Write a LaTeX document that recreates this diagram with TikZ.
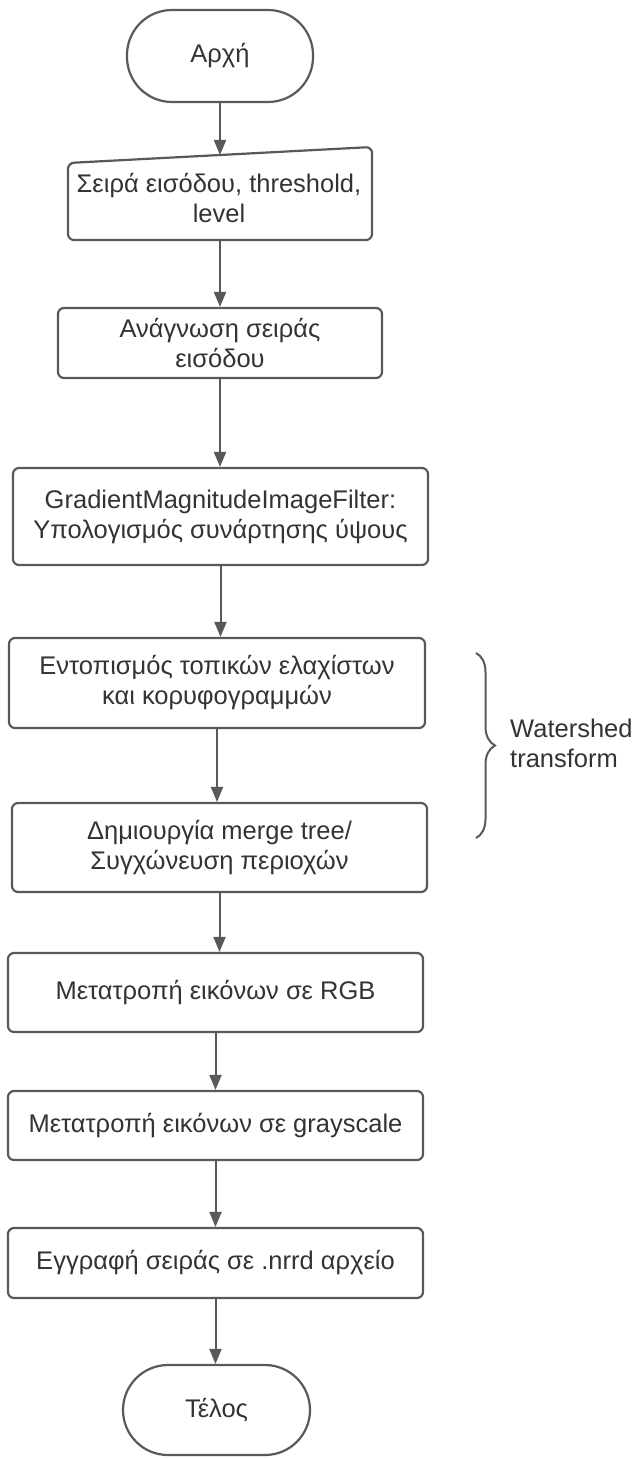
\documentclass[tikz,border=0pt]{standalone}
\usepackage{fontspec}
\setmainfont{Liberation Sans}
\usetikzlibrary{arrows.meta,decorations.pathreplacing}
\definecolor{ln}{HTML}{595959}
\definecolor{tx}{HTML}{333333}
\begin{document}
\begin{tikzpicture}[x=1pt,y=-1pt,
  txt/.style={text=tx, align=center, font=\fontsize{25.5}{30}\selectfont, inner sep=0pt},
  box/.style={txt, draw=ln, line width=2.2pt, rounded corners=6pt, fill=white},
  term/.style={box, rounded corners=45pt},
  arr/.style={draw=ln, line width=2pt, -{Triangle[length=15pt,width=12pt]}}]
\useasboundingbox (0,0) rectangle (641,1458);
\fill[white] (0,0) rectangle (641,1458);

% start
\node[term, minimum width=186pt, minimum height=92pt] (start) at (220,56) {Αρχή};

% manual input
\coordinate (inTL) at (68,163);
\coordinate (inTR) at (372,147);
\coordinate (inBR) at (372,240);
\coordinate (inBL) at (68,240);
\coordinate (inTop) at (220,155);
\coordinate (inBot) at (220,240);
\draw[draw=ln, line width=2.2pt, rounded corners=6pt, fill=white]
  (inTL) -- (inTR) -- (inBR) -- (inBL) -- cycle;
\node[txt] (inp) at (219,198) {Σειρά εισόδου, threshold,\\level};

\node[box, minimum width=324pt, minimum height=70pt] (read) at (220,343) {Ανάγνωση σειράς\\εισόδου};
\node[box, minimum width=415pt, minimum height=97pt] (grad) at (220.5,516.5) {GradientMagnitudeImageFilter:\\Υπολογισμός συνάρτησης ύψους};
\node[box, minimum width=416pt, minimum height=90pt] (ent) at (217,683) {Εντοπισμός τοπικών ελαχίστων\\και κορυφογραμμών};
\node[box, minimum width=415pt, minimum height=89pt] (dim) at (219.5,847.5) {Δημιουργία merge tree/\\Συγχώνευση περιοχών};
\node[box, minimum width=415pt, minimum height=79pt] (rgb) at (215.5,992.5) {Μετατροπή εικόνων σε RGB};
\node[box, minimum width=415pt, minimum height=69pt] (gray) at (215.5,1125.5) {Μετατροπή εικόνων σε grayscale};
\node[box, minimum width=415pt, minimum height=70pt] (nrrd) at (215.5,1263) {Εγγραφή σειράς σε .nrrd αρχείο};
\node[term, minimum width=187pt, minimum height=90pt] (end) at (216.5,1410) {Τέλος};

% brace + label
\coordinate (brT) at (476,653);
\coordinate (brB) at (476,838);
\draw[ln, line width=2pt, decorate, decoration={brace, amplitude=19pt}] (brT) -- (brB);
\node[txt, align=left, anchor=west] (ws) at (510,743) {Watershed\\transform};

% connectors
\draw[arr] (start.south) -- (inTop);
\draw[arr] (inBot) -- (inBot |- read.north);
\draw[arr] (read.south) -- (read.south |- grad.north);
\draw[arr] (grad.south) -- (grad.south |- ent.north);
\draw[arr] (ent.south) -- (ent.south |- dim.north);
\draw[arr] (dim.south) -- (dim.south |- rgb.north);
\draw[arr] (rgb.south) -- (rgb.south |- gray.north);
\draw[arr] (gray.south) -- (gray.south |- nrrd.north);
\draw[arr] (nrrd.south) -- (nrrd.south |- end.north);
\end{tikzpicture}
\end{document}
